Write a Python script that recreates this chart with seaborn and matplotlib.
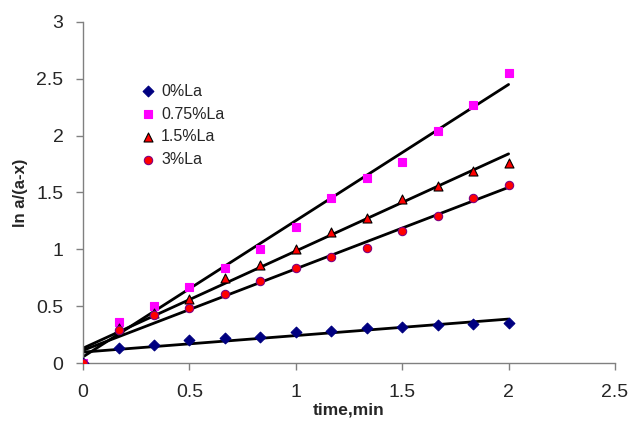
import numpy as np
import pandas as pd
import matplotlib
matplotlib.use("Agg")
import matplotlib.pyplot as plt
from matplotlib.ticker import FuncFormatter, MultipleLocator
import seaborn as sns

time_min = [0, 0.167, 0.333, 0.5, 0.667, 0.833, 1.0, 1.167, 1.333, 1.5, 1.667, 1.833, 2.0]
la_0 = [0, 0.13, 0.16, 0.20, 0.22, 0.23, 0.27, 0.28, 0.305, 0.32, 0.33, 0.34, 0.35]
la_075 = [0, 0.36, 0.50, 0.67, 0.84, 1.00, 1.20, 1.45, 1.63, 1.77, 2.04, 2.27, 2.55]
la_15 = [0, 0.31, 0.44, 0.56, 0.75, 0.86, 1.00, 1.155, 1.28, 1.44, 1.56, 1.69, 1.76]
la_3 = [0, 0.29, 0.42, 0.48, 0.61, 0.72, 0.84, 0.93, 1.01, 1.16, 1.29, 1.45, 1.57]
labels = ["0%La", "0.75%La", "1.5%La", "3%La"]

sns.set_style("white")
plt.rcParams['font.family'] = ['Liberation Sans', 'DejaVu Sans']

fig = plt.figure(figsize=(6.3, 4.23), dpi=100)
ax = fig.add_axes([83/630, 60/423, (615-83)/630, (363-22)/423])

styles = [
    dict(marker="D", color="#000080", edgecolor="#000080", s=30),
    dict(marker="s", color="#FF00FF", edgecolor="#FF00FF", s=36),
    dict(marker="^", color="#FF0000", edgecolor="black", s=42),
    dict(marker="o", color="#FF0000", edgecolor="#800080", s=36),
]
series = [la_0, la_075, la_15, la_3]

for vals, lab, st in zip(series, labels, styles):
    df = pd.DataFrame({"t": time_min, "y": vals})
    sns.regplot(data=df, x="t", y="y", scatter=False, ci=None, ax=ax,
                color="black", line_kws=dict(lw=2, zorder=2), label="_nolegend_")
for vals, lab, st in zip(series, labels, styles):
    df = pd.DataFrame({"t": time_min, "y": vals})
    sns.scatterplot(data=df, x="t", y="y", ax=ax, marker=st["marker"],
                    color=st["color"], edgecolor=st["edgecolor"], s=st["s"],
                    linewidth=0.8, label=lab, zorder=3)

ax.set_xlim(0, 2.5)
ax.set_ylim(0, 3)
ax.xaxis.set_major_locator(MultipleLocator(0.5))
ax.yaxis.set_major_locator(MultipleLocator(0.5))
fmt = FuncFormatter(lambda v, p: "%g" % v)
ax.xaxis.set_major_formatter(fmt)
ax.yaxis.set_major_formatter(fmt)
ax.tick_params(axis="both", direction="out", length=5, width=1, color="#808080",
               labelsize=14, left=True, bottom=True)
ax.tick_params(axis="x", pad=10)
ax.tick_params(axis="y", pad=9)
for sp in ["top", "right"]:
    ax.spines[sp].set_visible(False)
for sp in ["left", "bottom"]:
    ax.spines[sp].set_color("#808080")
    ax.spines[sp].set_linewidth(1)

ax.set_xlabel("time,min", fontsize=12.5, fontweight="bold", labelpad=1)
ax.set_ylabel("ln a/(a-x)", fontsize=12, fontweight="bold", labelpad=6)

ax.legend(loc="upper left", bbox_to_anchor=(0.09, 0.843), frameon=False,
          fontsize=11.5, handletextpad=0.2, labelspacing=0.5, borderpad=0,
          handlelength=1.2, markerscale=1.0)

fig.savefig("out.png", dpi=100)
